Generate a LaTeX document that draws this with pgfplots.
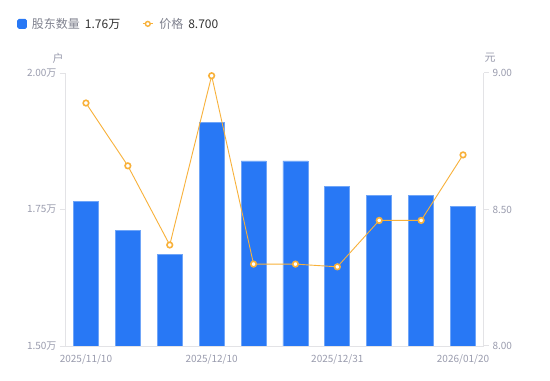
\documentclass[border=0pt]{standalone}
\usepackage{fontspec}
\setmainfont{Noto Sans CJK SC}
\usepackage{pgfplots}
\pgfplotsset{compat=1.18}
\definecolor{barblue}{HTML}{2878F5}
\definecolor{baredge}{HTML}{6FA5F8}
\definecolor{lineorange}{HTML}{F8B13A}
\definecolor{ticktext}{HTML}{9A9CAE}
\definecolor{axisgray}{HTML}{E3E3E6}
\definecolor{legtext}{HTML}{80828F}
\definecolor{legval}{HTML}{333333}
\begin{document}
\begin{tikzpicture}
\path[use as bounding box, fill=white] (0,0) rectangle (550bp,381bp);
\begin{axis}[
  at={(65bp,35bp)}, anchor=south west,
  width=419bp, height=273bp, scale only axis,
  xmin=-0.5, xmax=9.5, ymin=1.5, ymax=2.0,
  axis x line*=bottom, axis y line*=left,
  axis line style={draw=axisgray, line width=1bp},
  xtick={0,3,6,9},
  xticklabels={2025/11/10,2025/12/10,2025/12/31,2026/01/20},
  x tick style={draw=none},
  ytick={1.5,1.75,2.0},
  y tick style={draw=axisgray, line width=1bp},
  tick align=outside, major tick length=5bp,
  /pgf/number format/assume math mode=true,
  yticklabel={\pgfmathprintnumber[fixed,fixed zerofill,precision=2]{\tick}万},
  tick label style={font=\fontsize{10bp}{12bp}\selectfont, text=ticktext},
  xticklabel style={yshift=-0.5bp},
  legend style={at={(-0.1217,1.18)}, anchor=west, draw=none, fill=none,
    font=\fontsize{12bp}{14bp}\selectfont, text=legtext,
    legend columns=2, /tikz/every even column/.append style={column sep=20bp}},
]
\addplot[ybar, bar width=25bp, bar shift=0pt, fill=barblue, draw=baredge, line width=0.8bp,
  legend image code/.code={\fill[barblue, rounded corners=1.5bp] (0bp,-4.5bp) rectangle (9bp,4.5bp);}]
  coordinates {(0,1.764)(1,1.711)(2,1.667)(3,1.910)(4,1.839)(5,1.839)(6,1.793)(7,1.775)(8,1.775)(9,1.755)};
\addlegendentry{\hspace{3bp}股东数量\hspace{5bp}\textcolor{legval}{1.76万}}
\addlegendimage{legend image code/.code={\draw[lineorange, line width=1bp] (0bp,0bp)--(10bp,0bp); \draw[lineorange, fill=white, line width=1.4bp] (5bp,0bp) circle (2.4bp);}}
\addlegendentry{\hspace{4bp}价格\hspace{5bp}\textcolor{legval}{8.700}}
\end{axis}
\begin{axis}[
  at={(65bp,35bp)}, anchor=south west,
  width=419bp, height=273bp, scale only axis,
  xmin=-0.5, xmax=9.5, ymin=8, ymax=9,
  axis y line*=right, axis x line=none,
  axis line style={draw=axisgray, line width=1bp},
  ytick={8,8.5,9},
  y tick style={draw=axisgray, line width=1bp},
  tick align=outside, major tick length=5bp,
  /pgf/number format/assume math mode=true,
  yticklabel={\pgfmathprintnumber[fixed,fixed zerofill,precision=2]{\tick}},
  tick label style={font=\fontsize{10bp}{12bp}\selectfont, text=ticktext},
]
\addplot[lineorange, line width=0.9bp, mark=*, mark size=2.8bp,
  mark options={fill=white, draw=lineorange, line width=1.6bp}]
  coordinates {(0,8.89)(1,8.66)(2,8.37)(3,8.99)(4,8.30)(5,8.30)(6,8.29)(7,8.46)(8,8.46)(9,8.70)};
\end{axis}
\node[font=\fontsize{11bp}{13bp}\selectfont, text=ticktext] at (58bp,323bp) {户};
\node[font=\fontsize{11bp}{13bp}\selectfont, text=ticktext] at (490bp,323bp) {元};
\end{tikzpicture}
\end{document}
